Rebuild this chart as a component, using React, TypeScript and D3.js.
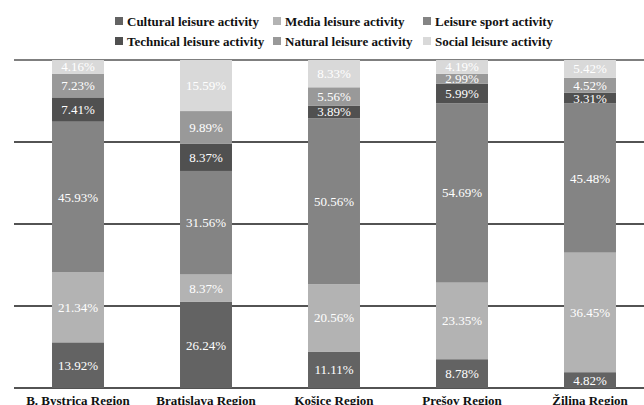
import React from "react";
import * as d3 from "d3";

// Regions on the x axis
const regions = [
  "B. Bystrica Region",
  "Bratislava Region",
  "Košice Region",
  "Prešov Region",
  "Žilina Region",
];

// Activity types, stacked bottom to top
const activities = [
  "Cultural leisure activity",
  "Media leisure activity",
  "Leisure sport activity",
  "Technical leisure activity",
  "Natural leisure activity",
  "Social leisure activity",
];

// Share (%) of each activity per region, in the region order above
const cultural = [13.92, 26.24, 11.11, 8.78, 4.82];
const media = [21.34, 8.37, 20.56, 23.35, 36.45];
const sport = [45.93, 31.56, 50.56, 54.69, 45.48];
const technical = [7.41, 8.37, 3.89, 5.99, 3.31];
const natural = [7.23, 9.89, 5.56, 2.99, 4.52];
const social = [4.16, 15.59, 8.33, 4.19, 5.42];

const yTicks = [0, 25, 50, 75, 100];

const colors = ["#636363", "#b3b3b3", "#848484", "#505050", "#999999", "#d9d9d9"];

const W = 644;
const H = 405;

const serif = { fontFamily: "'Liberation Serif', 'Times New Roman', Times, 'DejaVu Serif', serif" };

export default function App() {
  const series = [cultural, media, sport, technical, natural, social];
  const rows = regions.map((r, i) => {
    const row: Record<string, any> = { region: r };
    activities.forEach((a, k) => (row[a] = series[k][i]));
    return row;
  });
  const stacked = d3.stack().keys(activities)(rows as any);

  const x = d3.scaleBand().domain(regions).range([14, 654]).paddingInner(0.594).paddingOuter(0.297);
  const y = d3.scaleLinear().domain([0, 100]).range([388, 60]);

  const legendCols = [115, 273, 423];
  const legendRows = [21, 41];

  return (
    <svg width={W} height={H} style={{ position: "absolute", left: 0, top: 0, background: "#fff" }}>
      {/* grid lines */}
      {yTicks.map((t) => (
        <line
          key={t}
          x1={14}
          x2={W}
          y1={y(t)}
          y2={y(t)}
          stroke={t === 100 ? "#555" : "#1a1a1a"}
          strokeWidth={1.5}
        />
      ))}
      {/* stacked bars */}
      {stacked.map((layer, k) => (
        <g key={layer.key} fill={colors[k]}>
          {layer.map((d, i) => (
            <rect
              key={i}
              x={x(regions[i])}
              width={x.bandwidth()}
              y={y(Math.min(d[1], 100))}
              height={y(d[0]) - y(Math.min(d[1], 100))}
            />
          ))}
        </g>
      ))}
      {/* value labels */}
      {stacked.map((layer, k) => (
        <g key={layer.key + "-lab"}>
          {layer.map((d, i) => (
            <text
              key={i}
              x={(x(regions[i]) as number) + x.bandwidth() / 2}
              y={(y(d[0]) + y(Math.min(d[1], 100))) / 2}
              dy="0.35em"
              textAnchor="middle"
              style={serif}
              fontSize={13}
              fill="#fff"
            >
              {series[k][i].toFixed(2)}%
            </text>
          ))}
        </g>
      ))}
      {/* category labels */}
      {regions.map((r) => (
        <text
          key={r}
          x={(x(r) as number) + x.bandwidth() / 2}
          y={405}
          textAnchor="middle"
          style={serif}
          fontWeight="bold"
          fontSize={13}
          fill="#111"
        >
          {r}
        </text>
      ))}
      {/* legend */}
      {activities.map((a, k) => {
        const col = k % 3;
        const row = Math.floor(k / 3);
        const lx = legendCols[col];
        const ly = legendRows[row];
        return (
          <g key={a}>
            <rect x={lx} y={ly - 4} width={8} height={8} fill={colors[k]} />
            <text
              x={lx + 12}
              y={ly}
              dy="0.35em"
              style={serif}
              fontWeight="bold"
              fontSize={13}
              fill="#111"
            >
              {a}
            </text>
          </g>
        );
      })}
    </svg>
  );
}
